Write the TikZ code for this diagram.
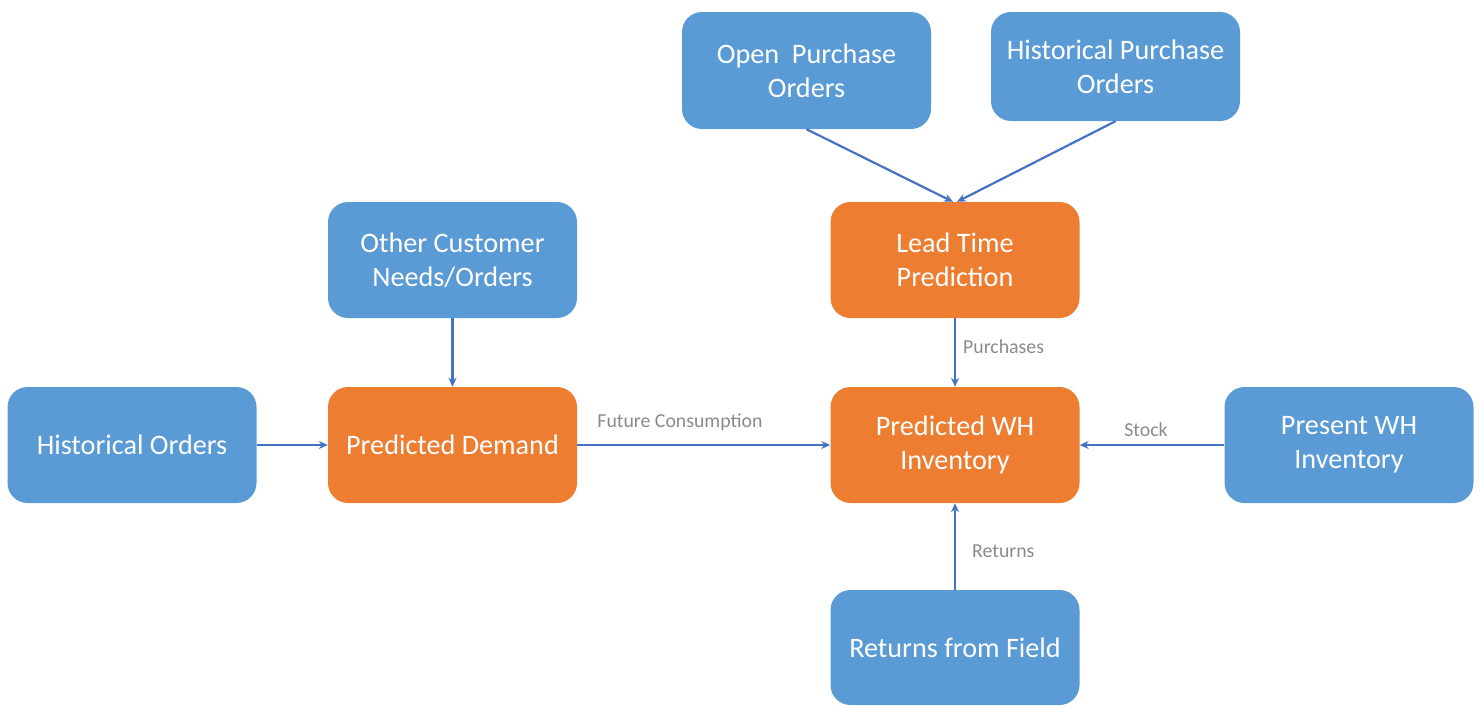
\documentclass[tikz,border=0pt]{standalone}
\usepackage{fontspec}
\setmainfont{Carlito}
\usetikzlibrary{arrows.meta}
\definecolor{boxblue}{HTML}{5B9BD5}
\definecolor{boxorange}{HTML}{ED7D31}
\definecolor{linkblue}{HTML}{4472C4}
\definecolor{labelgray}{HTML}{8A8A8A}
\tikzset{
  card/.style={rectangle, rounded corners=20pt, fill=boxblue, draw=none,
    minimum width=249pt, minimum height=116pt, text=white, align=center,
    inner sep=0pt, font=\fontsize{28.2}{34}\selectfont},
  srcbox/.style={card, fill=boxblue},
  predbox/.style={card, fill=boxorange},
  link/.style={draw=linkblue, line width=2.2pt, -{Stealth[length=9pt,width=8pt]}},
  flowlabel/.style={text=labelgray, font=\fontsize{19.8}{22}\selectfont, inner sep=0pt}
}
\begin{document}
\begin{tikzpicture}[x=1pt, y=-1pt]
\useasboundingbox (0,0) rectangle (1480,707);

% source data boxes
\node[srcbox, minimum height=117pt] (openpo) at (806.5,70.5) {Open\ \ Purchase\\Orders};
\node[srcbox, minimum height=109pt] (histpo) at (1115.5,66.5) {Historical Purchase\\Orders};
\node[srcbox] (other) at (452.5,260) {Other Customer\\Needs/Orders};
\node[srcbox] (histord) at (132,445) {Historical Orders};
\node[srcbox] (present) at (1349,445) {Present WH\\Inventory};
\node[srcbox, minimum height=115pt] (returns) at (955,647.5) {Returns from Field};

% prediction boxes
\node[predbox] (lead) at (955,260) {Lead Time\\Prediction};
\node[predbox] (demand) at (452.5,445) {Predicted Demand};
\node[predbox] (wh) at (955,445) {Predicted WH\\Inventory};

% connectors
\draw[link] (openpo.south) -- ([xshift=-2pt]lead.north);
\draw[link] (histpo.south) -- ([xshift=2pt]lead.north);
\draw[link] (other.south) -- (demand.north);
\draw[link] (histord.east) -- (demand.west);
\draw[link] (demand.east) -- (wh.west);
\draw[link] (present.west) -- (wh.east);
\draw[link] (lead.south) -- (wh.north);
\draw[link] (returns.north) -- (wh.south);

% connector labels
\node[flowlabel] (lblfuture) at (680,422) {Future Consumption};
\node[flowlabel] (lblstock) at (1146,430) {Stock};
\node[flowlabel, anchor=west] (lblpurch) at (963,347) {Purchases};
\node[flowlabel, anchor=west] (lblret) at (972,551) {Returns};
\end{tikzpicture}
\end{document}
